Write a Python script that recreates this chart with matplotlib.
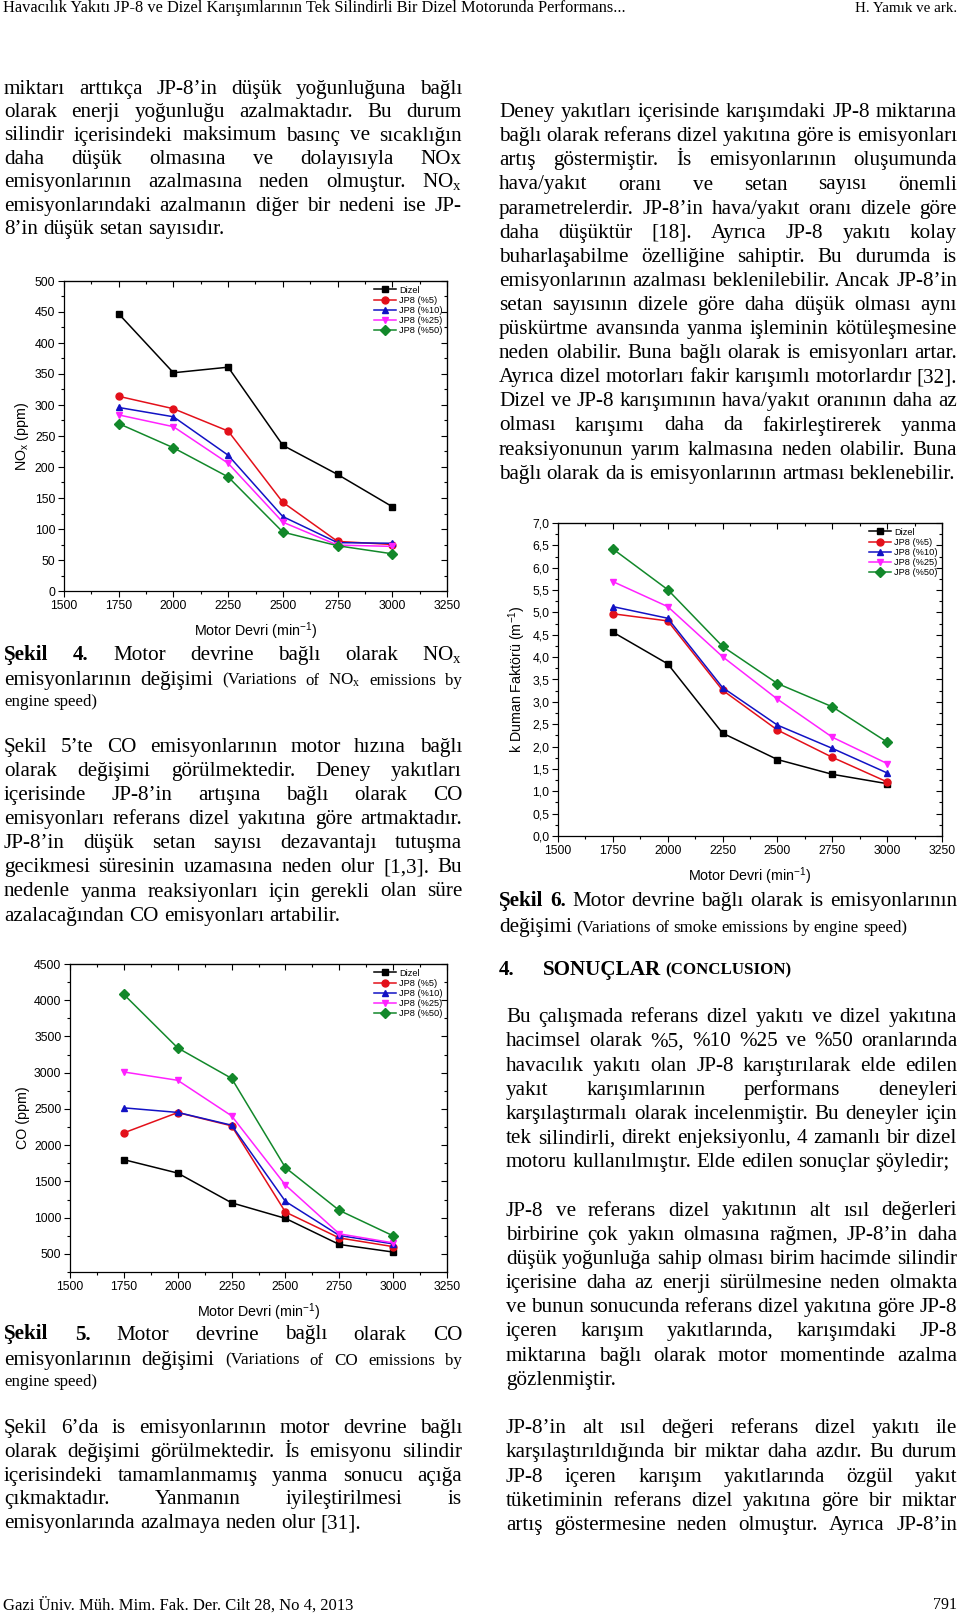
import matplotlib
matplotlib.use("Agg")
import matplotlib.pyplot as plt
from matplotlib.ticker import MultipleLocator, FuncFormatter, NullFormatter

plt.rcParams["font.family"] = ["Liberation Sans", "DejaVu Sans"]
plt.rcParams["mathtext.default"] = "regular"

W, H, DPI = 960, 1617, 100
SERIF = ["Liberation Serif", "DejaVu Serif"]
BODY = 15.2
SMALL = 12.2

# ---------------------------------------------------------------------
# data
# ---------------------------------------------------------------------
speeds = [1750, 2000, 2250, 2500, 2750, 3000]
fuel_labels = ["Dizel", "JP8 (%5)", "JP8 (%10)", "JP8 (%25)", "JP8 (%50)"]

nox_dizel = [447, 352, 361, 235, 188, 136]
nox_jp8_5 = [314, 294, 258, 143, 80, 75]
nox_jp8_10 = [296, 281, 219, 120, 78, 77]
nox_jp8_25 = [284, 265, 206, 111, 74, 72]
nox_jp8_50 = [270, 231, 184, 95, 73, 60]

smoke_dizel = [4.56, 3.85, 2.30, 1.71, 1.38, 1.17]
smoke_jp8_5 = [4.97, 4.81, 3.26, 2.37, 1.76, 1.21]
smoke_jp8_10 = [5.13, 4.87, 3.32, 2.48, 1.96, 1.41]
smoke_jp8_25 = [5.69, 5.13, 4.01, 3.06, 2.21, 1.62]
smoke_jp8_50 = [6.42, 5.51, 4.24, 3.41, 2.89, 2.10]

co_dizel = [1800, 1615, 1205, 990, 630, 525]
co_jp8_5 = [2170, 2450, 2267, 1077, 720, 600]
co_jp8_10 = [2515, 2452, 2276, 1224, 754, 638]
co_jp8_25 = [3010, 2895, 2405, 1450, 777, 652]
co_jp8_50 = [4080, 3342, 2922, 1690, 1100, 749]

line_colors = ["black", "#e3101a", "#1212c4", "#ff22ff", "#12882a"]
markers = ["s", "o", "^", "v", "D"]

fig = plt.figure(figsize=(W / DPI, H / DPI), dpi=DPI)
fig.patch.set_facecolor("white")
renderer = fig.canvas.get_renderer()


def px_axes(x0, y0, x1, y1):
    return fig.add_axes([x0 / W, 1 - y1 / H, (x1 - x0) / W, (y1 - y0) / H])


def draw_chart(ax, series, ylim, ymaj, ymin, ylabel, fmt):
    for vals, lab, c, m in zip(series, fuel_labels, line_colors, markers):
        ax.plot(speeds, vals, color=c, marker=m, ms=5, lw=1.1, mec=c, mfc=c, label=lab)
    ax.set_xlim(1500, 3250)
    ax.set_ylim(*ylim)
    ax.xaxis.set_major_locator(MultipleLocator(250))
    ax.xaxis.set_minor_locator(MultipleLocator(125))
    ax.yaxis.set_major_locator(MultipleLocator(ymaj))
    ax.yaxis.set_minor_locator(MultipleLocator(ymin))
    ax.yaxis.set_major_formatter(fmt)
    ax.tick_params(which="both", direction="out", labelsize=8.8, width=0.8, pad=2.2)
    ax.tick_params(which="major", length=4)
    ax.tick_params(which="minor", length=2.2)
    for sp in ax.spines.values():
        sp.set_linewidth(0.9)
    # Origin style: opposite axes carry inward ticks without labels
    top = ax.secondary_xaxis("top")
    top.xaxis.set_major_locator(MultipleLocator(250))
    top.xaxis.set_minor_locator(MultipleLocator(125))
    top.xaxis.set_major_formatter(NullFormatter())
    top.tick_params(which="both", direction="in", width=0.8)
    top.tick_params(which="major", length=4)
    top.tick_params(which="minor", length=2.2)
    right = ax.secondary_yaxis("right")
    right.yaxis.set_major_locator(MultipleLocator(ymaj))
    right.yaxis.set_minor_locator(MultipleLocator(ymin))
    right.yaxis.set_major_formatter(NullFormatter())
    right.tick_params(which="both", direction="in", width=0.8)
    right.tick_params(which="major", length=4)
    right.tick_params(which="minor", length=2.2)
    ax.set_xlabel("Motor Devri (min$^{-1}$)", fontsize=10.3, labelpad=6)
    ax.set_ylabel(ylabel, fontsize=10.3, labelpad=3)
    ax.legend(loc="upper right", bbox_to_anchor=(1.0, 1.0), frameon=False,
              fontsize=6.7, labelspacing=0.12, handlelength=2.4,
              handletextpad=0.3, borderpad=0.3, borderaxespad=0.2)


int_fmt = FuncFormatter(lambda v, p: f"{v:.0f}")
comma_fmt = FuncFormatter(lambda v, p: f"{v:.1f}".replace(".", ","))

ax1 = px_axes(64, 281, 447, 591)
draw_chart(ax1, [nox_dizel, nox_jp8_5, nox_jp8_10, nox_jp8_25, nox_jp8_50],
           (0, 500), 50, 25, "NO$_x$ (ppm)", int_fmt)

ax2 = px_axes(558, 523, 942, 836)
draw_chart(ax2, [smoke_dizel, smoke_jp8_5, smoke_jp8_10, smoke_jp8_25, smoke_jp8_50],
           (0, 7), 0.5, 0.25, "k Duman Faktörü (m$^{-1}$)", comma_fmt)

ax3 = px_axes(70, 964, 447, 1272)
draw_chart(ax3, [co_dizel, co_jp8_5, co_jp8_10, co_jp8_25, co_jp8_50],
           (250, 4500), 500, 250, "CO (ppm)", int_fmt)


# ---------------------------------------------------------------------
# page text, justified line by line
# ---------------------------------------------------------------------
def put_line(segments, x0, x1, yc, justify=True):
    words = []
    for txt, size, weight in segments:
        for w in txt.split():
            words.append((w, size, weight))
    objs = [fig.text(0, 0, w, fontsize=s, fontweight=wt, family=SERIF, va="baseline")
            for w, s, wt in words]
    widths = [o.get_window_extent(renderer).width for o in objs]
    spaces = [0.25 * s * DPI / 72 for _, s, _ in words]
    if justify and len(objs) > 1:
        g = (x1 - x0 - sum(widths)) / (len(objs) - 1)
        gaps = [g] * (len(objs) - 1)
    else:
        gaps = spaces[1:]
    x = x0
    yb = 1 - (yc + 5.5) / H
    for i, o in enumerate(objs):
        o.set_position((x / W, yb))
        x += widths[i]
        if i < len(gaps):
            x += gaps[i]


def paragraph(lines, x0, x1, y0, dy):
    for i, ln in enumerate(lines):
        put_line([(ln, BODY, "normal")], x0, x1, y0 + i * dy, justify=i < len(lines) - 1)


LX0, LX1 = 4, 462
RX0, RX1 = 499, 957

left_top = [
    "miktarı arttıkça JP-8’in düşük yoğunluğuna bağlı",
    "olarak enerji yoğunluğu azalmaktadır. Bu durum",
    "silindir içerisindeki maksimum basınç ve sıcaklığın",
    "daha düşük olmasına ve dolayısıyla NOx",
    "emisyonlarının azalmasına neden olmuştur. NO$_x$",
    "emisyonlarındaki azalmanın diğer bir nedeni ise JP-",
    "8’in düşük setan sayısıdır.",
]
paragraph(left_top, LX0, LX1, 88.3, 23.35)

right_top = [
    "Deney yakıtları içerisinde karışımdaki JP-8 miktarına",
    "bağlı olarak referans dizel yakıtına göre is emisyonları",
    "artış göstermiştir. İs emisyonlarının oluşumunda",
    "hava/yakıt oranı ve setan sayısı önemli",
    "parametrelerdir. JP-8’in hava/yakıt oranı dizele göre",
    "daha düşüktür [18]. Ayrıca JP-8 yakıtı kolay",
    "buharlaşabilme özelliğine sahiptir. Bu durumda is",
    "emisyonlarının azalması beklenilebilir. Ancak JP-8’in",
    "setan sayısının dizele göre daha düşük olması aynı",
    "püskürtme avansında yanma işleminin kötüleşmesine",
    "neden olabilir. Buna bağlı olarak is emisyonları artar.",
    "Ayrıca dizel motorları fakir karışımlı motorlardır [32].",
    "Dizel ve JP-8 karışımının hava/yakıt oranının daha az",
    "olması karışımı daha da fakirleştirerek yanma",
    "reaksiyonunun yarım kalmasına neden olabilir. Buna",
    "bağlı olarak da is emisyonlarının artması beklenebilir.",
]
paragraph(right_top, RX0, RX1, 111.7, 24.1)

# Sekil 4 caption
put_line([("Şekil 4.", BODY, "bold"), ("Motor devrine bağlı olarak NO$_x$", BODY, "normal")],
         LX0, LX1, 654)
put_line([("emisyonlarının değişimi", BODY, "normal"),
          ("(Variations of NO$_x$ emissions by", SMALL, "normal")], LX0, LX1, 679.3)
put_line([("engine speed)", SMALL, "normal")], LX0, LX1, 700.7, justify=False)

left_mid = [
    "Şekil 5’te CO emisyonlarının motor hızına bağlı",
    "olarak değişimi görülmektedir. Deney yakıtları",
    "içerisinde JP-8’in artışına bağlı olarak CO",
    "emisyonları referans dizel yakıtına göre artmaktadır.",
    "JP-8’in düşük setan sayısı dezavantajı tutuşma",
    "gecikmesi süresinin uzamasına neden olur [1,3]. Bu",
    "nedenle yanma reaksiyonları için gerekli olan süre",
    "azalacağından CO emisyonları artabilir.",
]
paragraph(left_mid, LX0, LX1, 746.7, 24.05)

# Sekil 6 caption
put_line([("Şekil 6.", BODY, "bold"),
          ("Motor devrine bağlı olarak is emisyonlarının", BODY, "normal")], RX0, RX1, 900)
put_line([("değişimi", BODY, "normal"),
          ("(Variations of smoke emissions by engine speed)", SMALL, "normal")],
         RX0, RX1, 926.7, justify=False)

# section heading
put_line([("4.", BODY, "bold")], RX0, RX1, 969, justify=False)
put_line([("SONUÇLAR", BODY, "bold"), ("(CONCLUSION)", SMALL, "bold")], 543, RX1, 969,
         justify=False)

PX0 = 506
concl_1 = [
    "Bu çalışmada referans dizel yakıtı ve dizel yakıtına",
    "hacimsel olarak %5, %10 %25 ve %50 oranlarında",
    "havacılık yakıtı olan JP-8 karıştırılarak elde edilen",
    "yakıt karışımlarının performans deneyleri",
    "karşılaştırmalı olarak incelenmiştir. Bu deneyler için",
    "tek silindirli, direkt enjeksiyonlu, 4 zamanlı bir dizel",
    "motoru kullanılmıştır. Elde edilen sonuçlar şöyledir;",
]
paragraph(concl_1, PX0, RX1, 1016.7, 24.17)

concl_2 = [
    "JP-8 ve referans dizel yakıtının alt ısıl değerleri",
    "birbirine çok yakın olmasına rağmen, JP-8’in daha",
    "düşük yoğunluğa sahip olması birim hacimde silindir",
    "içerisine daha az enerji sürülmesine neden olmakta",
    "ve bunun sonucunda referans dizel yakıtına göre JP-8",
    "içeren karışım yakıtlarında, karışımdaki JP-8",
    "miktarına bağlı olarak motor momentinde azalma",
    "gözlenmiştir.",
]
paragraph(concl_2, PX0, RX1, 1210, 24.18)

concl_3 = [
    "JP-8’in alt ısıl değeri referans dizel yakıtı ile",
    "karşılaştırıldığında bir miktar daha azdır. Bu durum",
    "JP-8 içeren karışım yakıtlarında özgül yakıt",
    "tüketiminin referans dizel yakıtına göre bir miktar",
    "artış göstermesine neden olmuştur. Ayrıca JP-8’in",
]
for i, ln in enumerate(concl_3):
    put_line([(ln, BODY, "normal")], PX0, RX1, 1427.7 + i * 24.15)

# Sekil 5 caption
put_line([("Şekil 5.", BODY, "bold"), ("Motor devrine bağlı olarak CO", BODY, "normal")],
         LX0, LX1, 1334)
put_line([("emisyonlarının değişimi", BODY, "normal"),
          ("(Variations of CO emissions by", SMALL, "normal")], LX0, LX1, 1359.3)
put_line([("engine speed)", SMALL, "normal")], LX0, LX1, 1380.7, justify=False)

left_bot = [
    "Şekil 6’da is emisyonlarının motor devrine bağlı",
    "olarak değişimi görülmektedir. İs emisyonu silindir",
    "içerisindeki tamamlanmamış yanma sonucu açığa",
    "çıkmaktadır. Yanmanın iyileştirilmesi is",
    "emisyonlarında azalmaya neden olur [31].",
]
paragraph(left_bot, LX0, LX1, 1427.3, 23.85)

# running header and footer
fig.text(3 / W, 1 - 8 / H,
         "Havacılık Yakıtı JP-8 ve Dizel Karışımlarının Tek Silindirli Bir Dizel Motorunda Performans...",
         family=SERIF, fontsize=11.8, va="center", ha="left")
fig.text(957 / W, 1 - 8 / H, "H. Yamık ve ark.", family=SERIF, fontsize=10.8,
         va="center", ha="right")
fig.text(3 / W, 1 - 1605 / H, "Gazi Üniv. Müh. Mim. Fak. Der. Cilt 28, No 4, 2013",
         family=SERIF, fontsize=12, va="center", ha="left")
fig.text(957 / W, 1 - 1605 / H, "791", family=SERIF, fontsize=11.5, va="center", ha="right")

fig.savefig("out.png", dpi=DPI, facecolor="white")
